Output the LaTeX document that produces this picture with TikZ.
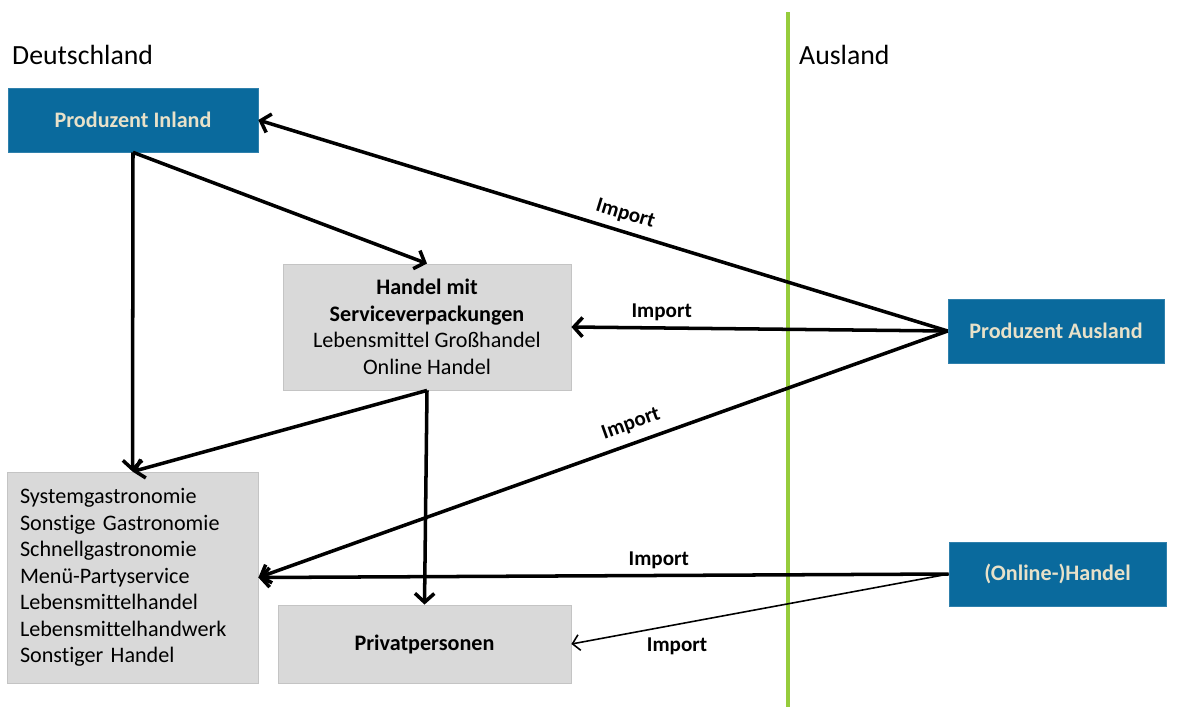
\documentclass[tikz,border=0pt]{standalone}
\usepackage{fontspec}
\setmainfont{Carlito}[Ligatures=NoCommon]
\usetikzlibrary{arrows.meta}
\definecolor{boxblue}{HTML}{0A6A9D}
\definecolor{boxtext}{HTML}{E8E1C9}
\definecolor{boxgray}{HTML}{D9D9D9}
\definecolor{bordergray}{HTML}{C4C4C4}
\definecolor{borderline}{HTML}{96CC3C}
\tikzset{
  bluebox/.style={fill=boxblue, draw=boxblue!85!white, text=boxtext, font=\fontsize{12.6}{15.1}\selectfont\bfseries, inner sep=0pt},
  graybox/.style={fill=boxgray, draw=bordergray, line width=0.5pt, font=\fontsize{12.6}{15.1}\selectfont, inner sep=0pt},
  flow/.style={draw, line width=2pt, -{Straight Barb[length=5pt, width=11pt, line width=2pt]}},
  thinflow/.style={draw, line width=0.9pt, -{Straight Barb[length=4pt, width=9pt, line width=0.9pt]}},
  implabel/.style={font=\fontsize{12}{14}\selectfont\bfseries, inner sep=3pt}
}
\begin{document}
\begin{tikzpicture}[x=0.02cm, y=-0.02cm]
\useasboundingbox (0,0) rectangle (1196,707);

% border between the two sides
\path[draw=borderline, line width=1.9pt] (788,12) -- (788,707);
\node[anchor=west, font=\fontsize{15.8}{18}\selectfont] (de) at (6,55) {Deutschland};
\node[anchor=west, font=\fontsize{15.8}{18}\selectfont] (aus) at (793,55) {Ausland};

% boxes
\node[bluebox, minimum width=5cm, minimum height=1.28cm] (pi) at (133,120) {Produzent Inland};
\node[bluebox, minimum width=4.32cm, minimum height=1.28cm] (pa) at (1056,331) {Produzent Ausland};
\node[bluebox, minimum width=4.34cm, minimum height=1.28cm] (oh) at (1057.5,574) {(Online-)Handel};
\node[graybox, minimum width=5.76cm, minimum height=2.52cm, align=center] (hd) at (427,327)
  {\textbf{Handel mit}\\\textbf{Serviceverpackungen}\\Lebensmittel Großhandel\\Online Handel};
\node[graybox, minimum width=5.02cm, minimum height=4.22cm, text width=4.5cm, align=left] (ga) at (132.5,577.5)
  {Systemgastronomie\\Sonstige Gastronomie\\Schnellgastronomie\\Menü-Partyservice\\Lebensmittelhandel\\Lebensmittelhandwerk\\Sonstiger Handel};
\node[graybox, minimum width=5.86cm, minimum height=1.56cm, font=\fontsize{12.6}{15.1}\selectfont\bfseries] (pp) at (424.5,644) {Privatpersonen};

% inland flows
\path[flow] (pi.south) -- (ga.north);
\path[flow] (pi.south) -- (hd.north);
\path[flow] (hd.south) -- (ga.north);
\path[flow] (hd.south) -- (pp.north);

% imports
\path[flow] (pa.west) -- node[implabel, pos=0.475, sloped, above=1pt] {Import} (pi.east);
\path[flow] (pa.west) -- node[implabel, pos=0.76, above] {Import} (hd.east);
\path[flow] (pa.west) -- node[implabel, pos=0.45, sloped, above=2pt] {Import} (ga.east);
\path[flow] (oh.west) -- node[implabel, pos=0.42, above] {Import} (ga.east);
\path[thinflow] (oh.west) -- node[implabel, pos=0.72, below=4pt] {Import} (pp.east);
\end{tikzpicture}
\end{document}
